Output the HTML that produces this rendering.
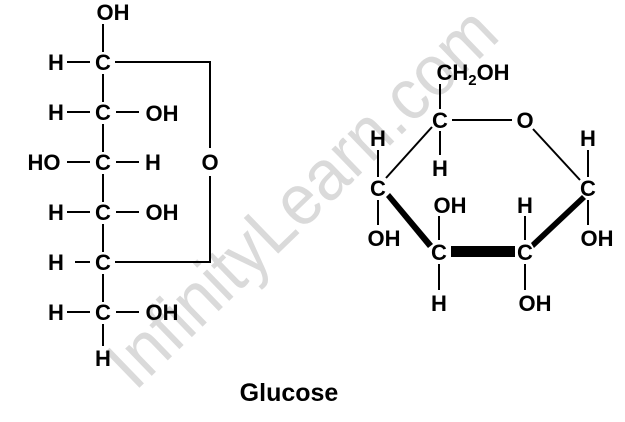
<!DOCTYPE html>
<html><head><style>body{margin:0;background:#fff}svg{display:block}</style></head>
<body>
<svg width="625" height="422" xmlns="http://www.w3.org/2000/svg" font-family="Liberation Sans, Arial, sans-serif" font-weight="bold">
<text x="0" y="0" font-size="72" font-weight="normal" fill="#dadada" transform="translate(135,392) rotate(-44)" textLength="510" lengthAdjust="spacingAndGlyphs">InfinityLearn.com</text>
<g stroke="#000" stroke-width="2" fill="none">
<line x1="103" y1="24" x2="103" y2="52"/>
<line x1="103" y1="74" x2="103" y2="102"/><line x1="103" y1="124" x2="103" y2="152"/>
<line x1="103" y1="174" x2="103" y2="202"/><line x1="103" y1="224" x2="103" y2="252"/>
<line x1="103" y1="274" x2="103" y2="302"/><line x1="103" y1="324" x2="103" y2="346"/>
<line x1="67" y1="62" x2="90" y2="62"/><line x1="67" y1="112" x2="90" y2="112"/><line x1="67" y1="162" x2="90" y2="162"/><line x1="67" y1="212" x2="90" y2="212"/><line x1="75" y1="262" x2="90" y2="262"/><line x1="67" y1="312" x2="90" y2="312"/>
<line x1="116" y1="112" x2="139" y2="112"/><line x1="116" y1="162" x2="139" y2="162"/><line x1="116" y1="212" x2="139" y2="212"/><line x1="116" y1="312" x2="139" y2="312"/>
<polyline points="115,62 210,62 210,148"/><polyline points="210,176 210,262 115,262"/>
<line x1="440" y1="84" x2="440" y2="109"/><line x1="452" y1="120" x2="512" y2="120"/>
<line x1="440" y1="131" x2="440" y2="155"/>
<line x1="432" y1="127" x2="386" y2="178"/>
<line x1="533" y1="129" x2="580" y2="180"/>
<line x1="378" y1="150" x2="378" y2="177"/><line x1="378" y1="200" x2="378" y2="225"/>
<line x1="588" y1="150" x2="588" y2="177"/><line x1="588" y1="200" x2="588" y2="225"/>
<line x1="439" y1="216" x2="439" y2="240"/><line x1="439" y1="264" x2="439" y2="290"/>
<line x1="525" y1="216" x2="525" y2="240"/><line x1="525" y1="264" x2="525" y2="290"/>
</g>
<polygon points="386,197 390,193 433,244 428,248" fill="#000"/>
<polygon points="582,195 586,199 534,248 531,243" fill="#000"/>
<rect x="451" y="246" width="64" height="11" fill="#000"/>
<g font-size="22" text-anchor="middle" fill="#000">
<text x="113" y="20">OH</text>
<text x="103" y="70">C</text><text x="103" y="120">C</text><text x="103" y="170">C</text><text x="103" y="220">C</text><text x="103" y="270">C</text><text x="103" y="320">C</text>
<text x="103" y="366">H</text>
<text x="56" y="70">H</text><text x="56" y="120">H</text><text x="44" y="170">HO</text><text x="56" y="220">H</text><text x="56" y="270">H</text><text x="56" y="320">H</text>
<text x="162" y="121">OH</text><text x="153" y="170">H</text><text x="162" y="220">OH</text><text x="162" y="320">OH</text>
<text x="210" y="170">O</text>
<text x="473" y="80">CH<tspan font-size="15" dy="5">2</tspan><tspan dy="-5">OH</tspan></text>
<text x="440" y="128">C</text><text x="525" y="128">O</text>
<text x="378" y="196">C</text><text x="588" y="196">C</text>
<text x="439" y="260">C</text><text x="525" y="260">C</text>
<text x="378" y="146">H</text><text x="440" y="176">H</text><text x="588" y="146">H</text>
<text x="384" y="246">OH</text><text x="597" y="246">OH</text>
<text x="450" y="213">OH</text><text x="525" y="213">H</text>
<text x="439" y="311">H</text><text x="535" y="311">OH</text>
<text x="289" y="401" font-size="25">Glucose</text>
</g>
</svg>
</body></html>
